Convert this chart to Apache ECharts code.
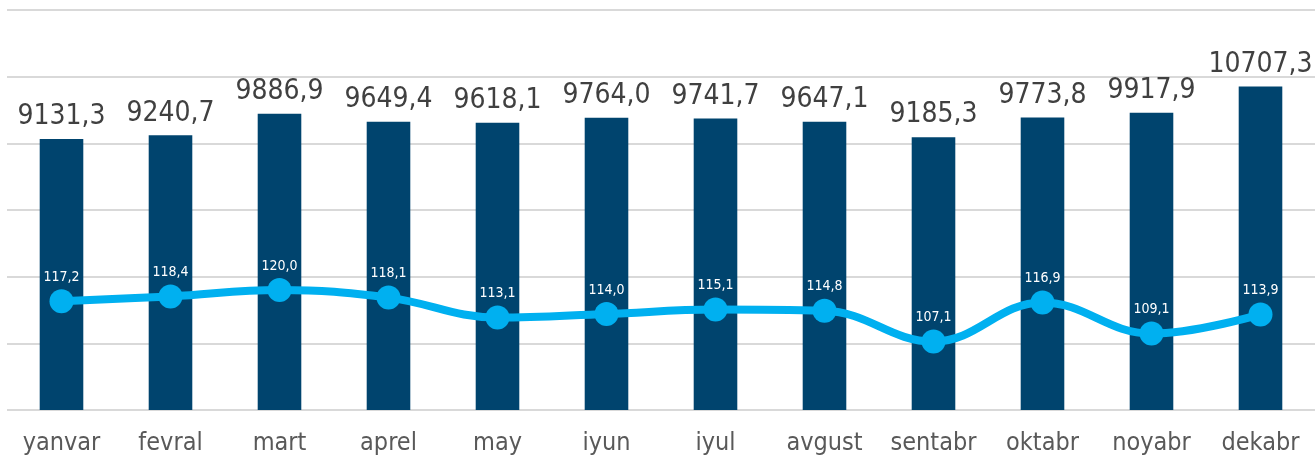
<!DOCTYPE html>
<html>
<head>
<meta charset="utf-8">
<script src="https://cdn.jsdelivr.net/npm/echarts@6/dist/echarts.min.js"></script>
<style>
html,body{margin:0;padding:0;background:#fff;}
#chart{width:1315px;height:458px;}
</style>
</head>
<body>
<div id="chart"></div>
<script>
const categories = ['yanvar','fevral','mart','aprel','may','iyun','iyul','avgust','sentabr','oktabr','noyabr','dekabr'];
const barValues = [9131.3, 9240.7, 9886.9, 9649.4, 9618.1, 9764.0, 9741.7, 9647.1, 9185.3, 9773.8, 9917.9, 10707.3];
const lineValues = [117.2, 118.4, 120.0, 118.1, 113.1, 114.0, 115.1, 114.8, 107.1, 116.9, 109.1, 113.9];

const FONT = '"DejaVu Sans Condensed", "DejaVu Sans", sans-serif';
const fmt = v => v.toFixed(1).replace('.', ',');

const chart = echarts.init(document.getElementById('chart'), null, {renderer: 'canvas'});
chart.setOption({
  animation: false,
  backgroundColor: '#ffffff',
  grid: {left: 7, right: -2, top: 10, bottom: 48, containLabel: false},
  xAxis: {
    type: 'category',
    data: categories,
    axisLine: {show: false},
    axisTick: {show: false},
    axisLabel: {color: '#595959', fontSize: 25, fontFamily: FONT, margin: 21, interval: 0}
  },
  yAxis: [{
    type: 'value',
    min: 1000, max: 13000, interval: 2000,
    axisLabel: {show: false},
    axisLine: {show: false},
    axisTick: {show: false},
    splitLine: {lineStyle: {color: '#d9d9d9', width: 2}}
  }, {
    type: 'value',
    min: 90, max: 190,
    axisLabel: {show: false},
    axisLine: {show: false},
    axisTick: {show: false},
    splitLine: {show: false}
  }],
  series: [{
    type: 'bar',
    data: barValues,
    barWidth: '40%',
    itemStyle: {color: '#00446e'},
    label: {
      show: true, position: 'top', distance: 8,
      color: '#404040', fontSize: 28, fontFamily: FONT,
      formatter: p => fmt(p.value)
    },
    z: 2
  }, {
    type: 'line',
    yAxisIndex: 1,
    data: lineValues,
    smooth: 0.4,
    symbol: 'circle',
    symbolSize: 24,
    lineStyle: {color: '#00b0f0', width: 8},
    itemStyle: {color: '#00b0f0'},
    label: {
      show: true, position: 'top', distance: 5,
      color: '#ffffff', fontSize: 14, fontFamily: FONT,
      formatter: p => fmt(p.value)
    },
    z: 3
  }]
});
</script>
</body>
</html>
